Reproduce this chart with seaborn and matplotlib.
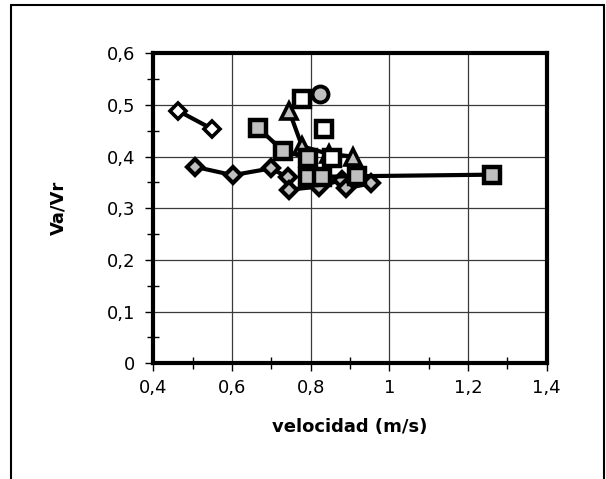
import matplotlib
matplotlib.use("Agg")
import matplotlib.pyplot as plt
from matplotlib.lines import Line2D
from matplotlib.ticker import MultipleLocator
import seaborn as sns
import pandas as pd

# ---- data ----
open_diamond_x = [0.462, 0.548]
open_diamond_y = [0.489, 0.454]

gray_diamond_x = [0.507, 0.602, 0.698, 0.743, 0.746, 0.822, 0.879, 0.891, 0.953]
gray_diamond_y = [0.380, 0.364, 0.377, 0.360, 0.336, 0.342, 0.355, 0.339, 0.348]

triangle_x = [0.745, 0.778, 0.846, 0.908]
triangle_y = [0.489, 0.420, 0.405, 0.400]

gray_square_x = [0.667, 0.730, 0.794, 0.794, 0.828, 0.919, 1.261]
gray_square_y = [0.455, 0.411, 0.397, 0.361, 0.361, 0.362, 0.365]

white_square_x = [0.777, 0.834, 0.853]
white_square_y = [0.511, 0.453, 0.397]

circle_x = [0.824]
circle_y = [0.521]

x_ticks = [0.4, 0.6, 0.8, 1.0, 1.2, 1.4]
x_tick_labels = ["0,4", "0,6", "0,8", "1", "1,2", "1,4"]
y_ticks = [0.0, 0.1, 0.2, 0.3, 0.4, 0.5, 0.6]
y_tick_labels = ["0", "0,1", "0,2", "0,3", "0,4", "0,5", "0,6"]

x_label = "velocidad (m/s)"
y_label = "Va/Vr"

# ---- figure ----
sns.set_style("white")
plt.rcParams["font.family"] = ["DejaVu Sans"]
plt.rcParams["text.color"] = "black"
plt.rcParams["axes.labelcolor"] = "black"
plt.rcParams["xtick.color"] = "black"
plt.rcParams["ytick.color"] = "black"

fig = plt.figure(figsize=(6.06, 4.79), dpi=100)
ax = fig.add_axes([153.3 / 606, 1 - 363.3 / 479, (546.7 - 153.3) / 606, (363.3 - 53.2) / 479])

GRAY = "#c0c0c0"
LW = 3

def series(xs, ys, marker, ms, face, mew, line=True, z=3):
    df = pd.DataFrame({"x": xs, "y": ys})
    sns.lineplot(data=df, x="x", y="y", sort=False, estimator=None, ax=ax,
                 color="black", lw=LW if line else 0,
                 linestyle="-" if line else "none",
                 marker=marker, markersize=ms, markerfacecolor=face,
                 markeredgecolor="black", markeredgewidth=mew, zorder=z)

series(open_diamond_x, open_diamond_y, "D", 8, "white", 2.6, z=3)
series(gray_diamond_x, gray_diamond_y, "D", 8, GRAY, 3.0, z=3)
series(triangle_x, triangle_y, "^", 11, GRAY, 2.6, z=4)
series(gray_square_x, gray_square_y, "s", 12, GRAY, 3.2, z=5)
series(white_square_x, white_square_y, "s", 12, "white", 3.2, line=False, z=6)
series(circle_x, circle_y, "o", 11.5, GRAY, 2.8, line=False, z=6)

ax.set_xlim(0.4, 1.4)
ax.set_ylim(0, 0.6)
ax.set_xticks(x_ticks)
ax.set_xticklabels(x_tick_labels, fontsize=13)
ax.set_yticks(y_ticks)
ax.set_yticklabels(y_tick_labels, fontsize=13)
ax.xaxis.set_minor_locator(MultipleLocator(0.1))
ax.yaxis.set_minor_locator(MultipleLocator(0.05))

ax.grid(True, which="major", color="#3a3a3a", lw=0.9, zorder=0)
ax.grid(False, which="minor")
ax.set_axisbelow(True)

for s in ax.spines.values():
    s.set_visible(True)
    s.set_color("black")
    s.set_linewidth(3)

ax.tick_params(which="both", bottom=True, left=True, top=False, right=False)
ax.tick_params(which="major", direction="out", length=6, width=1, color="black")
ax.tick_params(which="minor", direction="inout", length=9, width=1, color="black")
ax.tick_params(axis="y", which="major", pad=7)
ax.tick_params(axis="x", which="major", pad=5)

ax.set_xlabel(x_label, fontsize=13, fontweight="bold")
ax.set_ylabel(y_label, fontsize=13, fontweight="bold")
ax.xaxis.set_label_coords(0.5, -0.175)
ax.yaxis.set_label_coords((67 - 153.3) / (546.7 - 153.3), 0.5)

# outer frame (open at bottom)
fx0, fx1, fy0 = 10.7 / 606, 603.5 / 606, 1 - 5.3 / 479
fig.add_artist(Line2D([fx0, fx0], [0, fy0], transform=fig.transFigure, color="black", lw=1.5))
fig.add_artist(Line2D([fx0, fx1], [fy0, fy0], transform=fig.transFigure, color="black", lw=1.5))
fig.add_artist(Line2D([fx1, fx1], [0, fy0], transform=fig.transFigure, color="black", lw=1.5))

fig.savefig("out.png", dpi=100)
